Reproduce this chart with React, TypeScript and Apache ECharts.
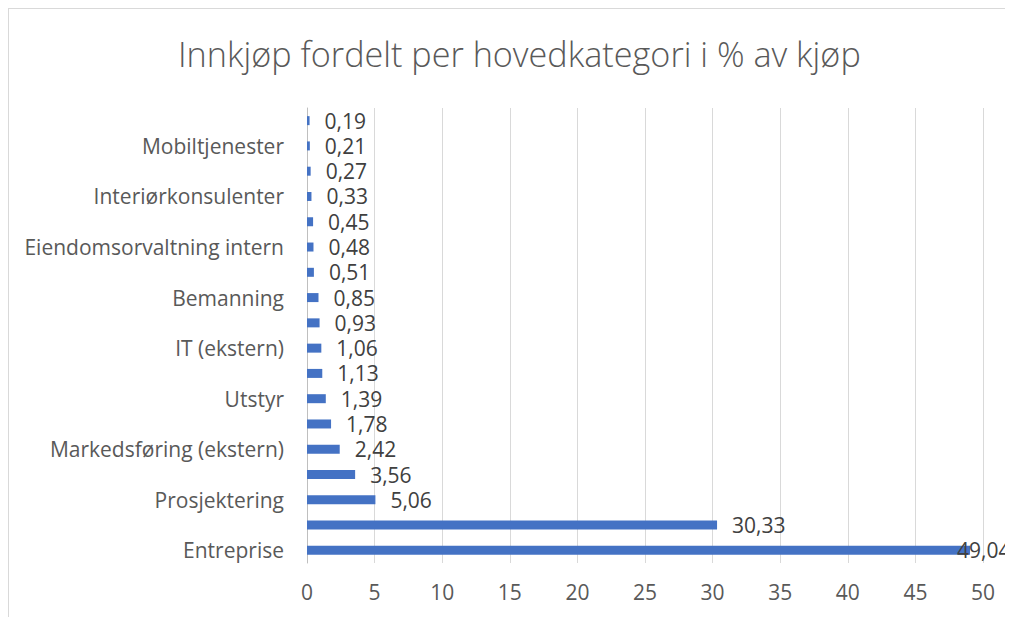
import React, { useEffect, useRef } from "react";
import * as echarts from "echarts";

// Categories from bottom to top (every other label is hidden, as in the reference)
const categories = [
  "Entreprise",
  "Kategori 2",
  "Prosjektering",
  "Kategori 4",
  "Markedsføring (ekstern)",
  "Kategori 6",
  "Utstyr",
  "Kategori 8",
  "IT (ekstern)",
  "Kategori 10",
  "Bemanning",
  "Kategori 12",
  "Eiendomsorvaltning intern",
  "Kategori 14",
  "Interiørkonsulenter",
  "Kategori 16",
  "Mobiltjenester",
  "Kategori 18",
];

const values = [
  49.04, 30.33, 5.06, 3.56, 2.42, 1.78, 1.39, 1.13, 1.06, 0.93, 0.85, 0.51, 0.48,
  0.45, 0.33, 0.27, 0.21, 0.19,
];

const title = "Innkjøp fordelt per hovedkategori i % av kjøp";

const FONT = "'Open Sans', 'Noto Sans', sans-serif";

export default function App() {
  const ref = useRef<HTMLDivElement>(null);

  useEffect(() => {
    if (!ref.current) return;
    const chart = echarts.init(ref.current, undefined, { renderer: "svg" });
    const maxVal = Math.max(...values);
    chart.setOption({
      animation: false,
      title: {
        text: title,
        left: 164,
        top: 22,
        textStyle: {
          fontFamily: FONT,
          fontSize: 34.2,
          fontWeight: 300,
          color: "#595959",
        },
      },
      grid: { left: 298, right: 30, top: 99, bottom: 54 },
      xAxis: {
        type: "value",
        min: 0,
        max: 50,
        interval: 5,
        axisLine: { show: false },
        axisTick: { show: false },
        splitLine: { lineStyle: { color: "#d9d9d9", width: 1 } },
        axisLabel: {
          margin: 18,
          fontFamily: FONT,
          fontSize: 21,
          color: "#595959",
        },
      },
      yAxis: {
        type: "category",
        data: categories,
        axisLine: { show: true, lineStyle: { color: "#bfbfbf", width: 1 } },
        axisTick: { show: false },
        axisLabel: {
          interval: 1,
          margin: 23,
          fontFamily: FONT,
          fontSize: 21,
          color: "#595959",
        },
      },
      series: [
        {
          type: "bar",
          barWidth: 9,
          itemStyle: { color: "#4472C4" },
          label: {
            show: true,
            position: "right",
            distance: 15,
            fontFamily: FONT,
            fontSize: 21,
            color: "#404040",
            formatter: (p: any) => Number(p.value).toFixed(2).replace(".", ","),
          },
          data: values.map((v) =>
            v === maxVal ? { value: v, label: { distance: -13 } } : v
          ),
        },
      ],
    });
    return () => chart.dispose();
  }, []);

  return (
    <div
      style={{
        width: 1005,
        height: 609,
        boxSizing: "border-box",
        borderTop: "1px solid #d9d9d9",
        borderLeft: "1px solid #d9d9d9",
        background: "#fff",
        overflow: "hidden",
      }}
    >
      <div ref={ref} style={{ width: 1004, height: 608 }} />
    </div>
  );
}
